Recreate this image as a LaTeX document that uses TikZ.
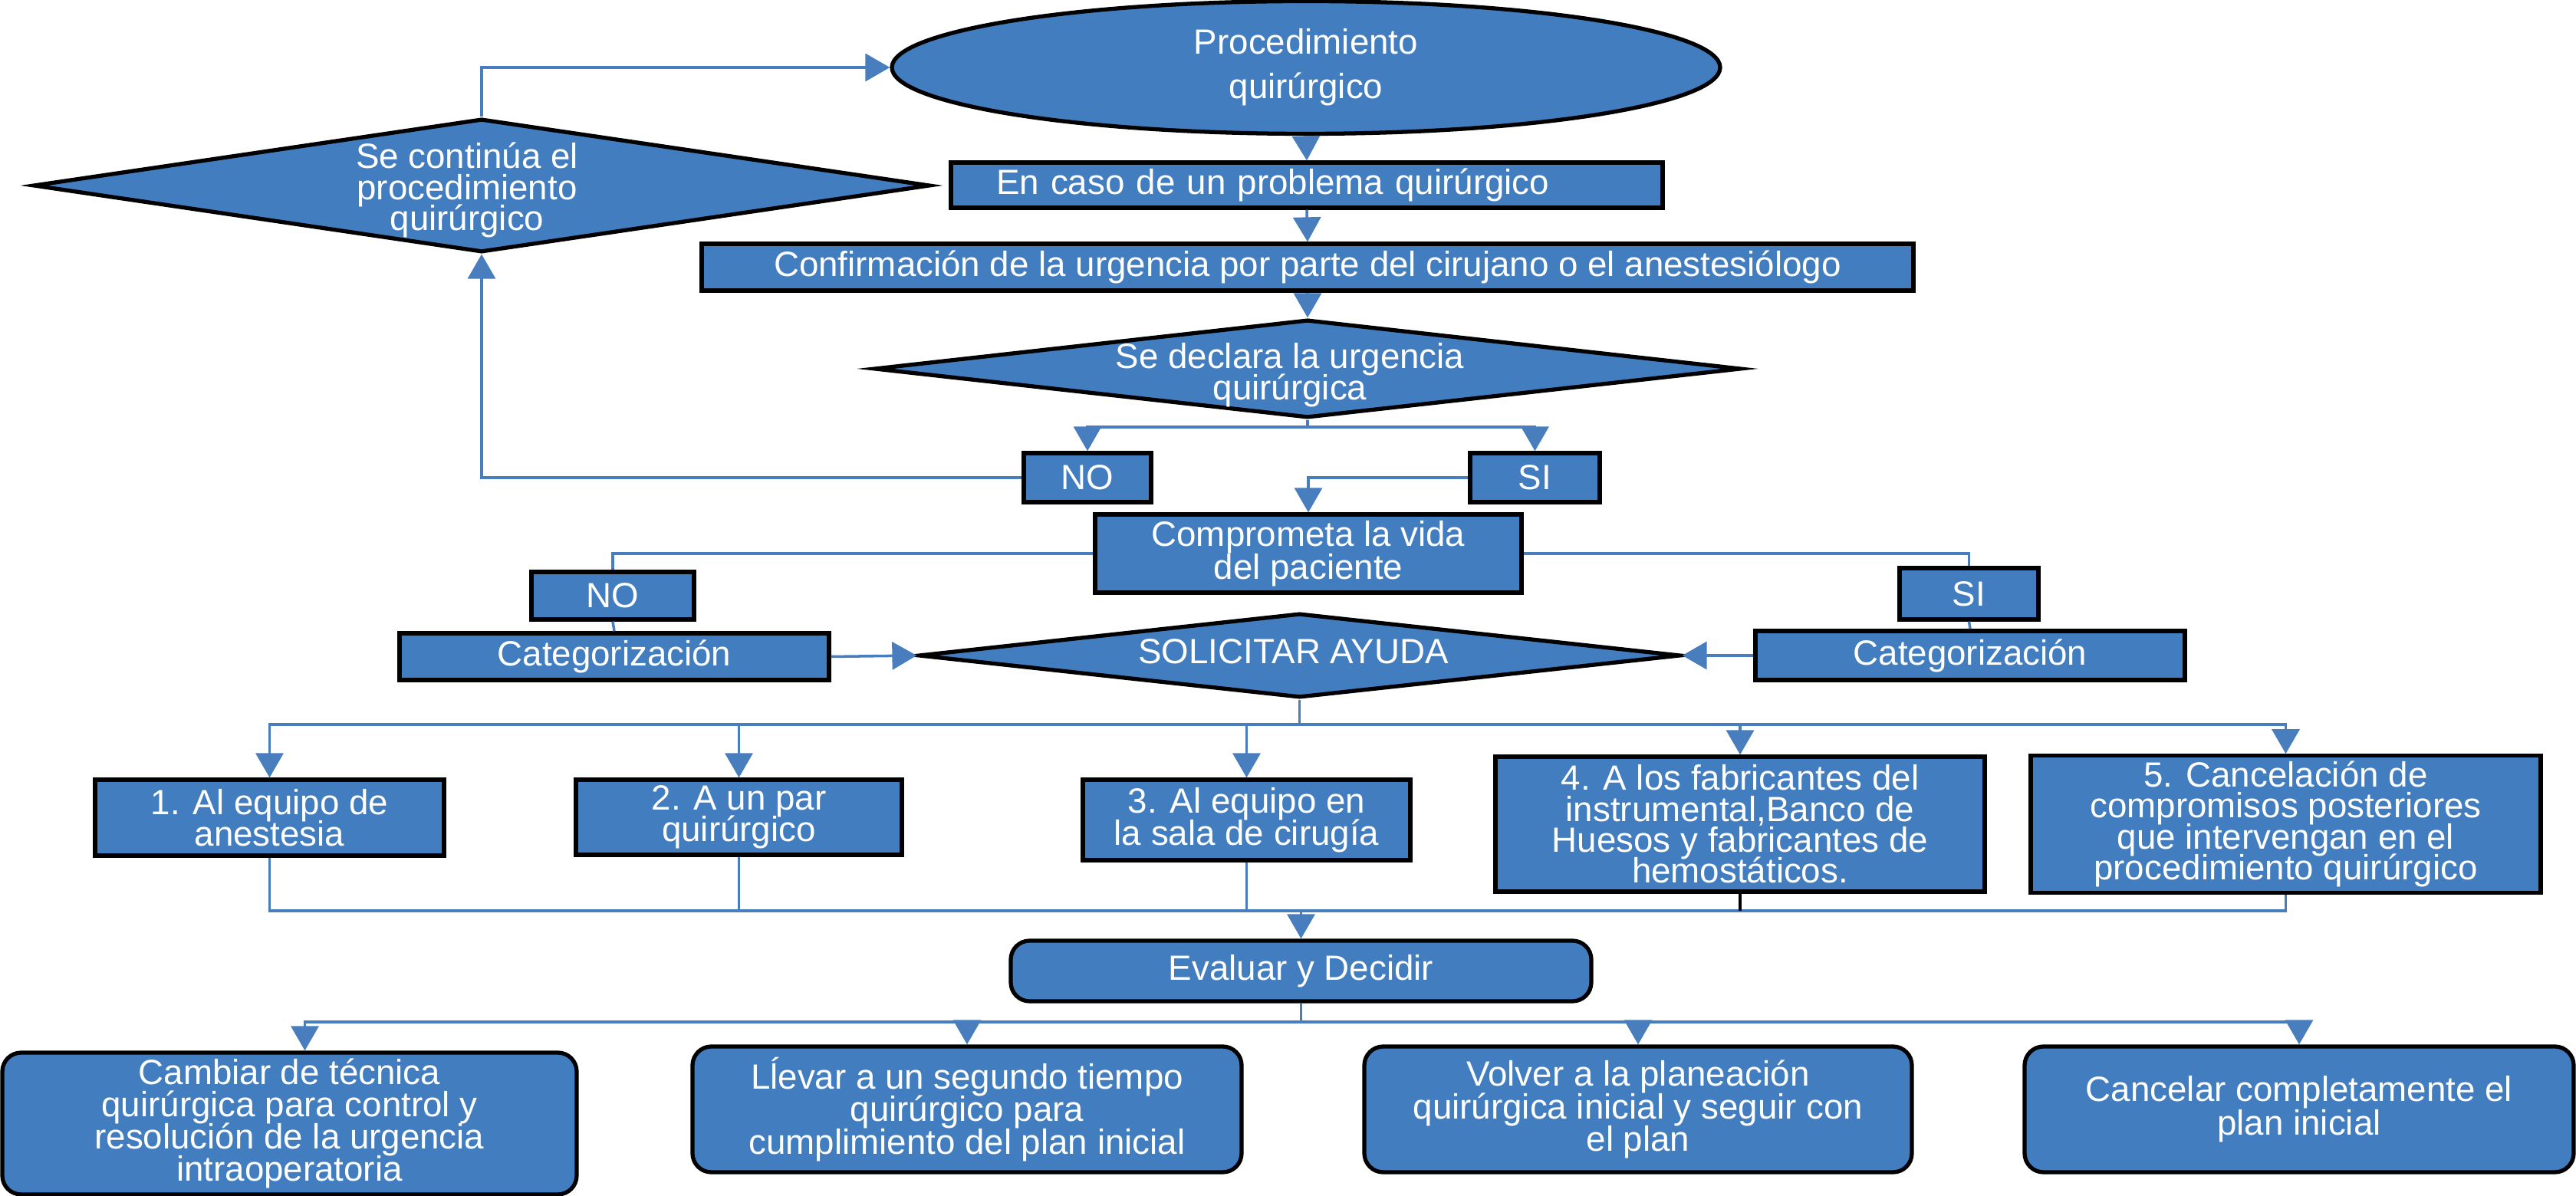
\documentclass[tikz,border=0pt]{standalone}
\usepackage{fontspec}
\setmainfont{Liberation Sans}
\usepackage{xcolor}
\usepackage{tikz}
\usetikzlibrary{arrows.meta}
\usetikzlibrary{positioning, shapes.geometric, shapes.misc}
\definecolor{boxblue}{RGB}{66,125,192}
\definecolor{lineblue}{RGB}{72,126,190}
\newcommand{\boxfont}[1]{\fontsize{13pt}{#1}\selectfont\lineskiplimit=-\maxdimen}
\tikzset{
proc box/.style = { rectangle, draw = black, fill = boxblue, line width = 1.5pt, text = white, font = \boxfont{11.8pt}, align = center, inner sep = 2pt },
round box/.style = { proc box, rounded corners = 7pt },
start/.style = { ellipse, draw = black, fill = boxblue, line width = 1.5pt, text = white, align = center, inner sep = 0pt },
decision/.style = { diamond, draw = black, fill = boxblue, line width = 1.5pt, inner sep = 0pt },
inside/.style = { text = white, align = center, font = \boxfont{#1} },
flow/.style = { draw = lineblue, line width = 1pt, -{Triangle[length = 3.2mm, width = 3.6mm]} },
link/.style = { draw = lineblue, line width = 1pt },
}

\begin{document}
\begin{tikzpicture}
    \useasboundingbox (0, 0) rectangle (33.59, -15.60);
    % top of the chart
    \node[start, minimum width = 10.8cm, minimum height = 1.73cm, font = \boxfont{16.5pt}] (ell) at (17.03, -0.88) {Procedimiento\\quirúrgico};
    \node[decision, minimum width = 11.69cm, minimum height = 1.74cm, label = {[inside = 11.5pt, xshift = -1.9mm, yshift = -0.6mm]center:Se continúa el\\procedimiento\\quirúrgico}] (d1) at (6.28, -2.42) {};
    \node[proc box, minimum width = 9.28cm, minimum height = 0.59cm, align = left, text width = 8.1cm] (incase) at (17.04, -2.415) {En caso de un problema quirúrgico};
    \node[proc box, minimum width = 15.8cm, minimum height = 0.61cm] (confirm) at (17.05, -3.485) {Confirmación de la urgencia por parte del cirujano o el anestesiólogo};
    \node[decision, minimum width = 11.3cm, minimum height = 1.28cm, label = {[inside = 11.8pt, xshift = -2.3mm, yshift = -0.8mm]center:Se declara la urgencia\\quirúrgica}] (urgent) at (17.05, -4.81) {};
    \node[proc box, minimum width = 1.66cm, minimum height = 0.64cm] (no1) at (14.18, -6.23) {NO};
    \node[proc box, minimum width = 1.69cm, minimum height = 0.64cm] (si1) at (20.015, -6.23) {SI};
    \node[proc box, minimum width = 5.56cm, minimum height = 1.02cm, font = \boxfont{12.2pt}] (life) at (17.06, -7.22) {Comprometa la vida\\del paciente};
    \node[proc box, minimum width = 2.12cm, minimum height = 0.62cm] (no2) at (7.99, -7.77) {NO};
    \node[proc box, minimum width = 5.6cm, minimum height = 0.61cm] (catl) at (8.01, -8.565) {Categorización};
    \node[proc box, minimum width = 1.81cm, minimum height = 0.67cm] (si2) at (25.675, -7.745) {SI};
    \node[proc box, minimum width = 5.6cm, minimum height = 0.64cm] (catr) at (25.69, -8.55) {Categorización};
    \node[decision, minimum width = 9.93cm, minimum height = 1.1cm, label = {[inside = 11.5pt, xshift = -0.8mm, yshift = 0.5mm]center:SOLICITAR AYUDA}] (help) at (16.945, -8.55) {};
    % who is called
    \node[proc box, minimum width = 4.55cm, minimum height = 0.99cm] (h1) at (3.515, -10.665) {1. Al equipo de\\anestesia};
    \node[proc box, minimum width = 4.25cm, minimum height = 0.98cm] (h2) at (9.635, -10.66) {2. A un par\\quirúrgico};
    \node[proc box, minimum width = 4.27cm, minimum height = 1.05cm] (h3) at (16.255, -10.695) {3. Al equipo en\\la sala de cirugía};
    \node[proc box, minimum width = 6.38cm, minimum height = 1.76cm, font = \boxfont{11.5pt}] (h4) at (22.69, -10.75) {4. A los fabricantes del\\instrumental,Banco de\\Huesos y fabricantes de\\hemostáticos.};
    \node[proc box, minimum width = 6.65cm, minimum height = 1.76cm, font = \boxfont{11.5pt}] (h5) at (29.805, -10.75) {5. Cancelación de\\compromisos posteriores\\que intervengan en el\\procedimiento quirúrgico};
    % decision and outcomes
    \node[round box, minimum width = 7.57cm, minimum height = 0.79cm] (eval) at (16.965, -12.665) {Evaluar y Decidir};
    \node[round box, minimum width = 7.49cm, minimum height = 1.85cm, font = \boxfont{12pt}] (b1) at (3.775, -14.655) {Cambiar de técnica\\quirúrgica para control y\\resolución de la urgencia\\intraoperatoria};
    \node[round box, minimum width = 7.16cm, minimum height = 1.64cm, font = \boxfont{12pt}] (b2) at (12.61, -14.47) {Lĺevar a un segundo tiempo\\quirúrgico para\\cumplimiento del plan inicial};
    \node[round box, minimum width = 7.14cm, minimum height = 1.64cm, font = \boxfont{12pt}] (b3) at (21.36, -14.47) {Volver a la planeación\\quirúrgica inicial y seguir con\\el plan};
    \node[round box, minimum width = 7.16cm, minimum height = 1.64cm, font = \boxfont{12.5pt}] (b4) at (29.98, -14.47) {Cancelar completamente el\\plan inicial};

    \coordinate (fork1) at (17.05, -5.57);
    \coordinate (fork2) at (16.945, -9.45);
    \coordinate (join) at (16.965, -11.88);
    \coordinate (fork3) at (16.965, -13.33);

    \draw[flow] (d1.north) |- (ell.west);
    \draw[flow] (ell.south) -- (incase.north);
    \draw[flow] (incase.south) -- (confirm.north);
    \draw[flow] (confirm.south) -- (urgent.north);
    \draw[link] (urgent.south) -- (fork1);
    \draw[flow] (fork1) -| (no1.north);
    \draw[flow] (fork1) -| (si1.north);
    \draw[flow] (no1.west) -| (d1.south);
    \draw[flow] (si1.west) -| (life.north);
    \draw[link] (life.west) -| (no2.north);
    \draw[link] (no2.south) -- (catl.north);
    \draw[link] (life.east) -| (si2.north);
    \draw[link] (si2.south) -- (catr.north);
    \draw[flow] (catl.east) -- (help.west);
    \draw[flow] (catr.west) -- (help.east);
    \draw[link] (help.south) -- (fork2);
    \foreach \who in {h1, h2, h3, h4, h5}
        \draw[flow] (fork2) -| (\who.north);
    \foreach \who in {h1, h2, h3, h5}
        \draw[link] (\who.south) |- (join);
    \draw[line width = 1pt, draw = black] (h4.south) -- (h4.south |- join);
    \draw[flow] (join) -- (eval.north);
    \draw[link] (eval.south) -- (fork3);
    \draw[flow] (fork3) -| ([xshift = 2mm]b1.north);
    \foreach \who in {b2, b3, b4}
        \draw[flow] (fork3) -| (\who.north);
\end{tikzpicture}
\end{document}
